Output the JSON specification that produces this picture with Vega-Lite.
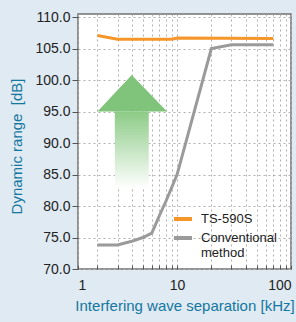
{
  "$schema": "https://vega.github.io/schema/vega-lite/v6.json",
  "width": 213,
  "height": 255,
  "autosize": "none",
  "padding": {"left": 78, "top": 14, "right": 5, "bottom": 53},
  "background": "#e0eaf2",
  "config": {
    "view": {"fill": "white", "stroke": "#707070", "strokeWidth": 1.5},
    "font": "Liberation Sans",
    "axis": {
      "labelFont": "Liberation Sans",
      "labelFontSize": 14,
      "labelColor": "#222222",
      "titleFont": "Liberation Sans",
      "titleFontSize": 15,
      "titleFontWeight": "normal",
      "titleColor": "#13779f",
      "gridColor": "#b0b0b0",
      "gridDash": [2, 3],
      "gridWidth": 1,
      "domain": false,
      "tickColor": "#555555"
    }
  },
  "encoding": {
    "x": {
      "field": "x",
      "type": "quantitative",
      "scale": {"type": "log", "domain": [1.35, 100], "nice": false},
      "axis": {
        "title": "Interfering wave separation [kHz]",
        "values": [1.35, 2, 3, 4, 5, 6, 7, 8, 9, 10, 20, 30, 40, 50, 60, 70, 80, 90, 100],
        "labelExpr": "datum.value < 1.5 ? '1' : (datum.value == 10 ? '10' : (datum.value == 100 ? '100' : ''))",
        "labelFlush": true,
        "labelOverlap": false,
        "tickSize": -4,
        "labelPadding": 13,
        "titlePadding": 6
      }
    },
    "y": {
      "field": "y",
      "type": "quantitative",
      "scale": {"domain": [70, 110.5], "nice": false, "zero": false},
      "axis": {
        "title": "Dynamic range\u00a0 [dB]",
        "values": [70, 75, 80, 85, 90, 95, 100, 105, 110],
        "format": ".1f",
        "tickSize": 6,
        "labelPadding": 2,
        "titlePadding": 10,
        "titleY": 132
      }
    }
  },
  "layer": [
    {
      "data": {"values": [{"x": 2.84, "x2": 5.64, "y": 95, "y2": 82.8}]},
      "mark": {
        "type": "rect",
        "color": {
          "gradient": "linear",
          "x1": 0, "y1": 0, "x2": 0, "y2": 1,
          "stops": [
            {"offset": 0, "color": "#8ccb86"},
            {"offset": 1, "color": "#ffffff"}
          ]
        }
      },
      "encoding": {
        "x2": {"field": "x2"},
        "y2": {"field": "y2"}
      }
    },
    {
      "data": {"values": [
        {"x": 2.0, "y": 95, "y2": 95},
        {"x": 4.0, "y": 100.8, "y2": 95},
        {"x": 8.17, "y": 95, "y2": 95}
      ]},
      "mark": {"type": "area", "color": "#80c47b", "opacity": 1},
      "encoding": {
        "y2": {"field": "y2"}
      }
    },
    {
      "data": {"values": [
        {"series": "TS-590S", "x": 2, "y": 107.1},
        {"series": "TS-590S", "x": 3, "y": 106.5},
        {"series": "TS-590S", "x": 9, "y": 106.5},
        {"series": "TS-590S", "x": 10, "y": 106.7},
        {"series": "TS-590S", "x": 70, "y": 106.6},
        {"series": "Conventional method", "x": 2, "y": 73.8},
        {"series": "Conventional method", "x": 3, "y": 73.8},
        {"series": "Conventional method", "x": 4, "y": 74.4},
        {"series": "Conventional method", "x": 5, "y": 75.0},
        {"series": "Conventional method", "x": 6, "y": 75.7},
        {"series": "Conventional method", "x": 7, "y": 78.5},
        {"series": "Conventional method", "x": 8, "y": 80.8},
        {"series": "Conventional method", "x": 10, "y": 85.0},
        {"series": "Conventional method", "x": 20, "y": 105.0},
        {"series": "Conventional method", "x": 30, "y": 105.6},
        {"series": "Conventional method", "x": 70, "y": 105.6}
      ]},
      "mark": {"type": "line", "strokeWidth": 3},
      "encoding": {
        "color": {
          "field": "series",
          "type": "nominal",
          "scale": {"domain": ["TS-590S", "Conventional method"], "range": ["#f5962a", "#9a9a9a"]},
          "legend": {
            "orient": "none",
            "legendX": 94,
            "legendY": 194,
            "title": null,
            "symbolType": "stroke",
            "symbolStrokeWidth": 4,
            "symbolSize": 324,
            "labelFont": "Liberation Sans",
            "labelFontSize": 13,
            "labelColor": "#222222",
            "labelOffset": 7,
            "rowPadding": 0,
            "labelExpr": "datum.label == 'Conventional method' ? ['Conventional', 'method'] : datum.label"
          }
        }
      }
    }
  ]
}
